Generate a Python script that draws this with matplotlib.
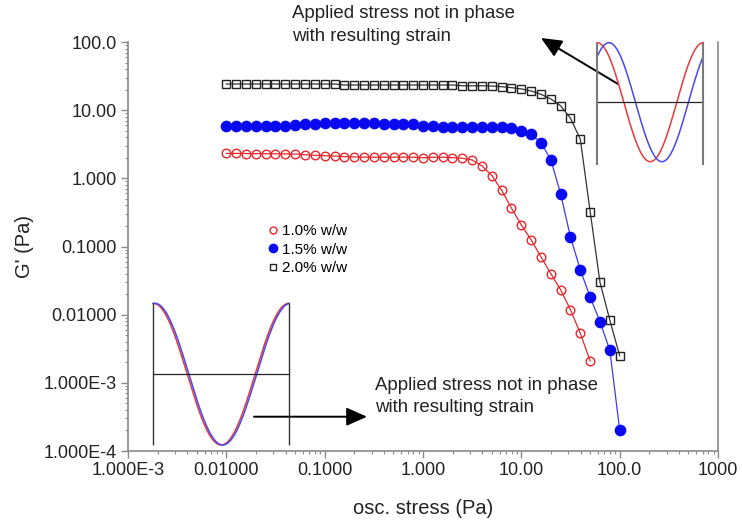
import numpy as np
import matplotlib
matplotlib.use("Agg")
import matplotlib.pyplot as plt
from matplotlib.lines import Line2D
from matplotlib.ticker import FixedLocator, FixedFormatter, LogLocator, NullFormatter

plt.rcParams['font.family'] = ['Liberation Sans', 'DejaVu Sans']

# stress sweep, 10 points per decade (Pa)
stress = [0.01000, 0.01259, 0.01585, 0.01995, 0.02512, 0.03162, 0.03981, 0.05012, 0.06310, 0.07943,
          0.1000, 0.1259, 0.1585, 0.1995, 0.2512, 0.3162, 0.3981, 0.5012, 0.6310, 0.7943,
          1.000, 1.259, 1.585, 1.995, 2.512, 3.162, 3.981, 5.012, 6.310, 7.943,
          10.00, 12.59, 15.85, 19.95, 25.12, 31.62, 39.81, 50.12, 63.10, 79.43, 100.0]

# G' (Pa) for each concentration
g_10 = [2.32, 2.32, 2.31, 2.30, 2.30, 2.29, 2.28, 2.27, 2.22, 2.18,
        2.15, 2.12, 2.08, 2.06, 2.05, 2.04, 2.04, 2.04, 2.04, 2.04,
        2.00, 2.04, 2.04, 2.01, 1.97, 1.86, 1.52, 1.10, 0.67, 0.365,
        0.207, 0.125, 0.0705, 0.040, 0.0231, 0.0118, 0.0053, 0.0021]
g_15 = [5.86, 5.86, 5.86, 5.86, 5.86, 5.86, 5.86, 6.00, 6.20, 6.25,
        6.43, 6.43, 6.43, 6.43, 6.43, 6.43, 6.20, 6.20, 6.20, 6.20,
        5.93, 5.93, 5.73, 5.60, 5.60, 5.60, 5.60, 5.60, 5.60, 5.48,
        5.00, 4.43, 3.34, 1.88, 0.59, 0.137, 0.0454, 0.0181, 0.0079, 0.0030, 0.000205]
g_20 = [24.2, 24.2, 24.2, 24.2, 24.2, 24.2, 24.2, 24.2, 24.2, 24.2,
        24.2, 24.2, 23.4, 23.4, 23.4, 23.4, 23.4, 23.4, 23.4, 23.4,
        23.4, 23.4, 23.4, 23.4, 22.8, 22.8, 22.8, 22.6, 22.1, 21.4,
        20.5, 19.1, 17.1, 14.6, 11.6, 7.6, 3.74, 0.325, 0.0298, 0.0083, 0.00251]

labels = ["1.0% w/w", "1.5% w/w", "2.0% w/w"]

x_ticks = [1e-3, 1e-2, 1e-1, 1, 10, 100, 1000]
x_tick_labels = ["1.000E-3", "0.01000", "0.1000", "1.000", "10.00", "100.0", "1000"]
y_ticks = [1e-4, 1e-3, 1e-2, 1e-1, 1, 10, 100]
y_tick_labels = ["1.000E-4", "1.000E-3", "0.01000", "0.1000", "1.000", "10.00", "100.0"]

# phase lag of strain behind stress in the two sketches (fraction of a cycle)
lag_top = 0.11
lag_bottom = 0.012

note = "Applied stress not in phase\nwith resulting strain"

red = '#e8262b'
blue = '#0a0af0'
W, H = 742, 524


def box(x0, y0, x1, y1):
    # pixel box measured from the top-left -> figure fraction rect
    return [x0 / W, 1 - y1 / H, (x1 - x0) / W, (y1 - y0) / H]


def fpos(x, y):
    return (x / W, 1 - y / H)


fig = plt.figure(figsize=(W / 100, H / 100), dpi=100)
ax = fig.add_axes(box(128, 42, 718, 451))

ax.plot(stress[:len(g_10)], g_10, color=red, lw=0.9, marker='o', ms=6.2,
        mfc='none', mec=red, mew=1.0)
ax.plot(stress, g_15, color='#3b3bf0', lw=0.9, marker='o', ms=7.4,
        mfc=blue, mec=blue)
ax.plot(stress, g_20, color='#333333', lw=0.9, marker='s', ms=5.4,
        mfc='none', mec='#222222', mew=1.0)

ax.set_xscale('log')
ax.set_yscale('log')
ax.set_xlim(1e-3, 1e3)
ax.set_ylim(1e-4, 100)

ax.spines['top'].set_visible(False)
for s in ('left', 'bottom', 'right'):
    ax.spines[s].set_color('#8a8a8a')
    ax.spines[s].set_linewidth(1.2)

ax.xaxis.set_major_locator(FixedLocator(x_ticks))
ax.xaxis.set_major_formatter(FixedFormatter(x_tick_labels))
ax.yaxis.set_major_locator(FixedLocator(y_ticks))
ax.yaxis.set_major_formatter(FixedFormatter(y_tick_labels))
for axis in (ax.xaxis, ax.yaxis):
    axis.set_minor_locator(LogLocator(base=10, subs=np.arange(2, 10) * 1.0, numticks=20))
    axis.set_minor_formatter(NullFormatter())
ax.tick_params(which='both', direction='out', color='#8a8a8a', top=False, right=False)
ax.tick_params(which='major', length=5, width=1, labelsize=13, labelcolor='#222222', pad=3)
ax.tick_params(which='minor', length=2.5, width=0.8)

fig.text(*fpos(423, 508), "osc. stress (Pa)", fontsize=14.5, ha='center', va='center', color='#222222')
fig.text(*fpos(25, 246), "G' (Pa)", fontsize=14.5, ha='center', va='center', rotation=90, color='#222222')

handles = [
    Line2D([], [], ls='none', marker='o', ms=5, mfc='none', mec=red, mew=1.0),
    Line2D([], [], ls='none', marker='o', ms=6, mfc=blue, mec=blue),
    Line2D([], [], ls='none', marker='s', ms=4.5, mfc='none', mec='#222222', mew=1.0),
]
ax.legend(handles, labels, loc='upper left', bbox_to_anchor=fpos(268, 224),
          bbox_transform=fig.transFigure, frameon=False, fontsize=11,
          handlelength=0.6, handletextpad=0.3, labelspacing=0.3,
          borderpad=0, borderaxespad=0)

# sketches of stress (red) and strain (blue) waves
phase = np.linspace(0, 1, 300)


def sketch(rect, lag, frame_color, frame_lw, v_bottom):
    a = fig.add_axes(rect)
    a.set_xlim(0, 1)
    a.set_ylim(-1, 1)
    a.axis('off')
    a.patch.set_alpha(0)
    a.plot(phase, np.cos(2 * np.pi * phase), color='#e83a3a', lw=1.1, clip_on=False)
    a.plot(phase, np.cos(2 * np.pi * (phase - lag)), color='#4848ee', lw=1.1, clip_on=False)
    a.plot([0, 1], [0, 0], color='#222222', lw=0.9, clip_on=False)
    a.vlines([0, 1], v_bottom, 1.0, color=frame_color, lw=frame_lw, clip_on=False)
    return a


sketch(box(597.3, 42.7, 703.3, 161.7), lag_top, '#7a7a7a', 1.5, -1.06)
sketch(box(153.3, 303.3, 289, 445), lag_bottom, '#333333', 1.0, -1.0)

arrow = dict(arrowstyle='-|>,head_length=0.9,head_width=0.4', color='black',
             lw=1.4, shrinkA=0, shrinkB=0, mutation_scale=14)
ax.annotate('', xy=fpos(541, 38), xytext=fpos(618, 84),
            xycoords='figure fraction', textcoords='figure fraction',
            arrowprops=arrow, annotation_clip=False)
ax.annotate('', xy=fpos(367, 416.7), xytext=fpos(254, 416.7),
            xycoords='figure fraction', textcoords='figure fraction',
            arrowprops=arrow, annotation_clip=False)

fig.text(*fpos(291.7, 5.5), note, fontsize=13.4, va='top', ha='left',
         linespacing=1.4, color='#222222')
fig.text(*fpos(375, 376.5), note, fontsize=13.4, va='top', ha='left',
         linespacing=1.4, color='#222222')

fig.savefig("out.png", dpi=100)
